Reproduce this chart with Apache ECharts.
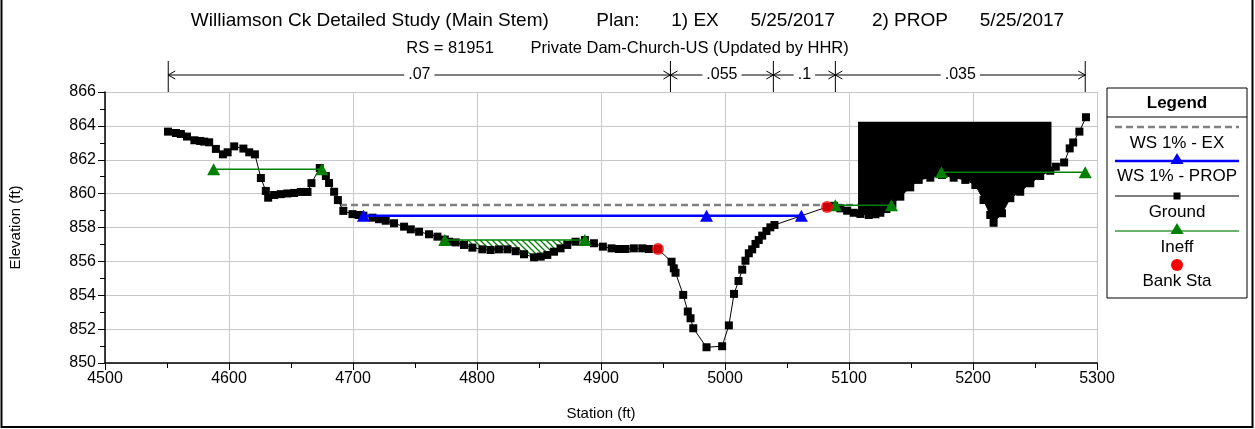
<!DOCTYPE html>
<html>
<head>
<meta charset="utf-8">
<script src="https://cdn.jsdelivr.net/npm/echarts@6/dist/echarts.min.js"></script>
<style>
  html, body { margin: 0; padding: 0; background: #fff; }
  #chart { width: 1255px; height: 429px; }
</style>
</head>
<body>
<div id="chart"></div>
<script>
// ground profile (station ft, elevation ft)
const groundStation = [
  4550.8, 4557.2, 4561.2, 4566.1, 4572.1, 4576.8, 4580.0, 4584.0, 4589.4, 4595.1,
  4598.9, 4604.2, 4611.6, 4616.3, 4620.9, 4625.7, 4629.7, 4631.6, 4636.4, 4641.8,
  4647.2, 4652.5, 4657.9, 4663.3, 4666.5, 4673.2, 4678.1, 4680.7, 4684.8, 4687.8,
  4692.2, 4699.6, 4704.5, 4708.4, 4715.7, 4721.0, 4726.4, 4733.1, 4741.2, 4746.6,
  4753.3, 4761.3, 4768.1, 4774.0, 4777.4, 4782.8, 4789.5, 4796.3, 4804.3, 4811.0,
  4817.7, 4824.5, 4831.2, 4837.9, 4846.0, 4851.4, 4856.7, 4862.1, 4867.4, 4872.8,
  4879.5, 4887.0, 4894.3, 4901.5, 4908.5, 4914.4, 4919.8, 4926.5, 4933.3, 4938.6,
  4945.9, 4956.9, 4958.7, 4960.1, 4966.3, 4970.0, 4972.2, 4974.4, 4985.1, 4997.7,
  5003.1, 5007.3, 5010.9, 5013.9, 5016.5, 5019.2, 5021.9, 5024.6, 5027.2, 5030.0,
  5033.4, 5036.6, 5039.9, 5082.3, 5088.0, 5093.1, 5098.5, 5103.8, 5109.2, 5115.9,
  5121.3, 5125.3, 5130.2, 5135.0, 5141.4, 5149.4, 5156.2, 5165.6, 5175.0, 5184.4,
  5193.8, 5201.9, 5208.5, 5213.9, 5216.6, 5223.4, 5230.1, 5238.1, 5246.2, 5254.2,
  5262.3, 5266.8, 5273.5, 5278.0, 5280.8, 5285.8, 5291.1
]
const groundElevation = [
  863.66, 863.58, 863.52, 863.37, 863.15, 863.11, 863.07, 863.03, 862.64, 862.32,
  862.44, 862.79, 862.66, 862.44, 862.32, 860.92, 860.16, 859.76, 859.92, 859.97,
  860.01, 860.04, 860.10, 860.10, 860.62, 861.51, 861.04, 860.63, 860.11, 859.62,
  858.98, 858.79, 858.74, 858.70, 858.58, 858.49, 858.40, 858.25, 858.05, 857.89,
  857.75, 857.60, 857.46, 857.29, 857.16, 857.12, 856.97, 856.81, 856.71, 856.67,
  856.71, 856.71, 856.60, 856.42, 856.24, 856.28, 856.38, 856.57, 856.77, 856.97,
  857.16, 857.26, 857.07, 856.87, 856.77, 856.73, 856.73, 856.77, 856.77, 856.73,
  856.73, 855.98, 855.59, 855.33, 854.02, 853.04, 852.64, 852.05, 850.93, 850.99,
  852.22, 854.08, 854.84, 855.51, 856.04, 856.48, 856.71, 857.03, 857.26, 857.52,
  857.79, 858.01, 858.15, 859.21, 859.28, 859.13, 858.99, 858.87, 858.80, 858.74,
  858.78, 858.87, 859.09, 859.40, 859.82, 860.37, 860.81, 860.94, 861.10, 860.94,
  860.81, 860.51, 859.62, 858.74, 858.28, 858.84, 859.73, 860.11, 860.61, 861.04,
  861.35, 861.59, 861.84, 862.67, 863.02, 863.66, 864.51
]

// water surfaces
const wsExStation = [4689.5, 5107.3]
const wsExElevation = [859.33, 859.33]
const wsPropStation = [4708.4, 4985.1, 5061.6]
const wsPropElevation = [858.70, 858.70, 858.70]

// ineffective flow areas
const ineffStart = [4587.6, 4774.0, 5089.0, 5174.5]
const ineffEnd = [4674.9, 4887.0, 5134.2, 5290.5]
const ineffElevation = [861.44, 857.26, 859.31, 861.26]

// bank stations
const bankStation = [4945.9, 5082.3]
const bankElevation = [856.73, 859.21]

// blocked obstruction
const obstructionStart = 5107.3
const obstructionEnd = 5263.3
const obstructionElevation = 864.25

// manning's n breaks
const nStation = [4551, 4956, 5039, 5089, 5290.5]
const nValue = ['.07', '.055', '.1', '.035']

const FONT = 'Liberation Sans, Arial, sans-serif'

const groundData = groundStation.map((s, i) => [s, groundElevation[i]])

function groundAt(x) {
  for (let i = 0; i < groundStation.length - 1; i++) {
    const a = groundStation[i], b = groundStation[i + 1]
    if (x >= a && x <= b) {
      const t = (x - a) / (b - a)
      return groundElevation[i] + t * (groundElevation[i + 1] - groundElevation[i])
    }
  }
  return groundElevation[groundElevation.length - 1]
}

function groundBetween(a, b) {
  const pts = [[a, groundAt(a)]]
  groundData.forEach(p => { if (p[0] > a && p[0] < b) pts.push(p) })
  pts.push([b, groundAt(b)])
  return pts
}

// hatch pattern for ineffective water
const hatch = document.createElement('canvas')
hatch.width = 6
hatch.height = 6
const hctx = hatch.getContext('2d')
hctx.strokeStyle = '#008000'
hctx.lineWidth = 1.3
hctx.beginPath()
hctx.moveTo(0, 0); hctx.lineTo(6, 6)
hctx.moveTo(-1, 5); hctx.lineTo(1, 7)
hctx.moveTo(5, -1); hctx.lineTo(7, 1)
hctx.stroke()

const chart = echarts.init(document.getElementById('chart'))

const ineffSeries = ineffStart.map((s, i) => ({
  type: 'line',
  data: [[s, ineffElevation[i]], [ineffEnd[i], ineffElevation[i]]],
  symbol: 'triangle',
  symbolSize: [13, 12],
  itemStyle: { color: '#008000' },
  lineStyle: { color: '#008000', width: 1.5 },
  z: 6
}))

chart.setOption({
  animation: false,
  title: [
    {
      text: 'Williamson Ck Detailed Study (Main Stem)         Plan:      1) EX      5/25/2017       2) PROP      5/25/2017',
      left: 'center',
      top: 6,
      textStyle: { fontFamily: FONT, fontSize: 19, fontWeight: 'normal', color: '#000' }
    },
    {
      text: 'RS = 81951        Private Dam-Church-US (Updated by HHR)',
      left: 'center',
      top: 35,
      textStyle: { fontFamily: FONT, fontSize: 16.5, fontWeight: 'normal', color: '#000' }
    }
  ],
  grid: { left: 104, right: 158, top: 92, bottom: 66 },
  xAxis: {
    type: 'value',
    min: 4500,
    max: 5300,
    interval: 100,
    name: 'Station (ft)',
    nameLocation: 'middle',
    nameGap: 43,
    nameTextStyle: { fontFamily: FONT, fontSize: 15, color: '#000' },
    axisLine: { onZero: false, lineStyle: { color: '#000', width: 1.5 } },
    axisTick: { length: 7, lineStyle: { color: '#000' } },
    minorTick: { show: true, splitNumber: 2, length: 5, lineStyle: { color: '#000' } },
    axisLabel: { fontFamily: FONT, fontSize: 16, color: '#000', margin: 8, formatter: v => String(v) },
    splitLine: { show: true, lineStyle: { color: '#c8c8c8', width: 1 } }
  },
  yAxis: {
    type: 'value',
    min: 850,
    max: 866,
    interval: 2,
    name: 'Elevation (ft)',
    nameLocation: 'middle',
    nameGap: 82,
    nameTextStyle: { fontFamily: FONT, fontSize: 15, color: '#000' },
    axisLine: { show: true, lineStyle: { color: '#000', width: 1.5 } },
    axisTick: { show: true, length: 7, lineStyle: { color: '#000' } },
    minorTick: { show: true, splitNumber: 2, length: 5, lineStyle: { color: '#000' } },
    axisLabel: { fontFamily: FONT, fontSize: 16, color: '#000', margin: 9, formatter: v => String(v) },
    splitLine: { show: true, lineStyle: { color: '#c8c8c8', width: 1 } }
  },
  series: [
    {
      // blocked obstruction, filled from ground up to its top elevation
      type: 'custom',
      data: [[obstructionStart, obstructionElevation]],
      renderItem(params, api) {
        const pts = [
          api.coord([obstructionStart, obstructionElevation]),
          api.coord([obstructionEnd, obstructionElevation])
        ]
        groundBetween(obstructionStart, obstructionEnd).reverse().forEach(p => pts.push(api.coord(p)))
        return { type: 'polygon', shape: { points: pts }, style: { fill: '#000' } }
      },
      z: 2
    },
    {
      // hatched water inside the middle ineffective area
      type: 'custom',
      data: [[ineffStart[1], ineffElevation[1]]],
      renderItem(params, api) {
        const a = ineffStart[1], b = ineffEnd[1], e = ineffElevation[1]
        const pts = [api.coord([a, e]), api.coord([b, e])]
        groundBetween(a, b).reverse().forEach(p => pts.push(api.coord([p[0], Math.min(p[1], e)])))
        return {
          type: 'polygon',
          shape: { points: pts },
          style: { fill: { image: hatch, repeat: 'repeat' } }
        }
      },
      z: 2
    },
    {
      name: 'WS 1% - EX',
      type: 'line',
      data: wsExStation.map((s, i) => [s, wsExElevation[i]]),
      symbol: 'none',
      lineStyle: { color: '#808080', width: 2.5, type: [7, 4] },
      z: 3
    },
    {
      name: 'Ground',
      type: 'line',
      data: groundData,
      symbol: 'rect',
      symbolSize: 8,
      showAllSymbol: true,
      itemStyle: { color: '#000' },
      lineStyle: { color: '#000', width: 1 },
      z: 4
    },
    {
      name: 'WS 1% - PROP',
      type: 'line',
      data: wsPropStation.map((s, i) => [s, wsPropElevation[i]]),
      symbol: 'triangle',
      symbolSize: [13, 12],
      itemStyle: { color: '#0000ff' },
      lineStyle: { color: '#0000ff', width: 2.5 },
      z: 5
    },
    ...ineffSeries,
    {
      name: 'Bank Sta',
      type: 'scatter',
      data: bankStation.map((s, i) => [s, bankElevation[i]]),
      symbol: 'circle',
      symbolSize: 12,
      itemStyle: { color: '#ff0000' },
      z: 7
    }
  ]
})

// manning's n bar above the plot, legend box, frame
const NFONT = '16px ' + FONT
const mctx = document.createElement('canvas').getContext('2d')
mctx.font = NFONT
const graphics = []
const nY = 75
const nx = nStation.map(s => chart.convertToPixel({ xAxisIndex: 0 }, s))
const plotTop = chart.convertToPixel({ yAxisIndex: 0 }, 866)
nx.forEach(x => {
  graphics.push({ type: 'line', shape: { x1: x, y1: 61, x2: x, y2: plotTop }, style: { stroke: '#000', lineWidth: 1 } })
})
nValue.forEach((v, i) => {
  const x1 = nx[i], x2 = nx[i + 1], mid = (x1 + x2) / 2
  const half = mctx.measureText(v).width / 2 + 4
  graphics.push({ type: 'line', shape: { x1: x1, y1: nY, x2: mid - half, y2: nY }, style: { stroke: '#000', lineWidth: 1 } })
  graphics.push({ type: 'line', shape: { x1: mid + half, y1: nY, x2: x2, y2: nY }, style: { stroke: '#000', lineWidth: 1 } })
  graphics.push({ type: 'polyline', shape: { points: [[x1 + 7, nY - 4], [x1, nY], [x1 + 7, nY + 4]] }, style: { stroke: '#000', lineWidth: 1, fill: null } })
  graphics.push({ type: 'polyline', shape: { points: [[x2 - 7, nY - 4], [x2, nY], [x2 - 7, nY + 4]] }, style: { stroke: '#000', lineWidth: 1, fill: null } })
  graphics.push({ type: 'text', x: mid, y: nY, style: { text: v, font: NFONT, fill: '#000', align: 'center', verticalAlign: 'middle' } })
})

const lx = 1107, lw = 140, lc = lx + lw / 2
const ltext = (t, y, bold) => ({
  type: 'text', x: lc, y: y, z: 11,
  style: { text: t, font: (bold ? 'bold ' : '') + '17px ' + FONT, fill: '#000', align: 'center', verticalAlign: 'middle' }
})
const tri = (x, y, color) => ({
  type: 'polygon', z: 12, shape: { points: [[x, y - 7], [x + 6.5, y + 4], [x - 6.5, y + 4]] }, style: { fill: color }
})
graphics.push(
  { type: 'rect', shape: { x: lx, y: 88, width: lw, height: 210 }, style: { fill: '#fff', stroke: '#000', lineWidth: 1 }, z: 10 },
  { type: 'line', shape: { x1: lx, y1: 117, x2: lx + lw, y2: 117 }, style: { stroke: '#000', lineWidth: 1 }, z: 11 },
  ltext('Legend', 103, true),
  { type: 'line', shape: { x1: lx + 8, y1: 127, x2: lx + lw - 8, y2: 127 }, style: { stroke: '#808080', lineWidth: 2.5, lineDash: [7, 4] }, z: 11 },
  ltext('WS 1% - EX', 143),
  { type: 'line', shape: { x1: lx + 8, y1: 161, x2: lx + lw - 8, y2: 161 }, style: { stroke: '#0000ff', lineWidth: 2.5 }, z: 11 },
  tri(lc, 160, '#0000ff'),
  ltext('WS 1% - PROP', 176),
  { type: 'line', shape: { x1: lx + 8, y1: 196, x2: lx + lw - 8, y2: 196 }, style: { stroke: '#000', lineWidth: 1 }, z: 11 },
  { type: 'rect', shape: { x: lc - 3.5, y: 192.5, width: 7, height: 7 }, style: { fill: '#000' }, z: 12 },
  ltext('Ground', 212),
  { type: 'line', shape: { x1: lx + 8, y1: 231, x2: lx + lw - 8, y2: 231 }, style: { stroke: '#3a9a3a', lineWidth: 1.5 }, z: 11 },
  tri(lc, 230, '#008000'),
  ltext('Ineff', 247),
  { type: 'circle', shape: { cx: lc, cy: 265, r: 6 }, style: { fill: '#ff0000' }, z: 11 },
  ltext('Bank Sta', 281),
  { type: 'rect', shape: { x: 1.5, y: -5, width: 1251, height: 432 }, style: { fill: null, stroke: '#000', lineWidth: 2 }, z: 20 }
)

chart.setOption({ graphic: graphics })
</script>
</body>
</html>
